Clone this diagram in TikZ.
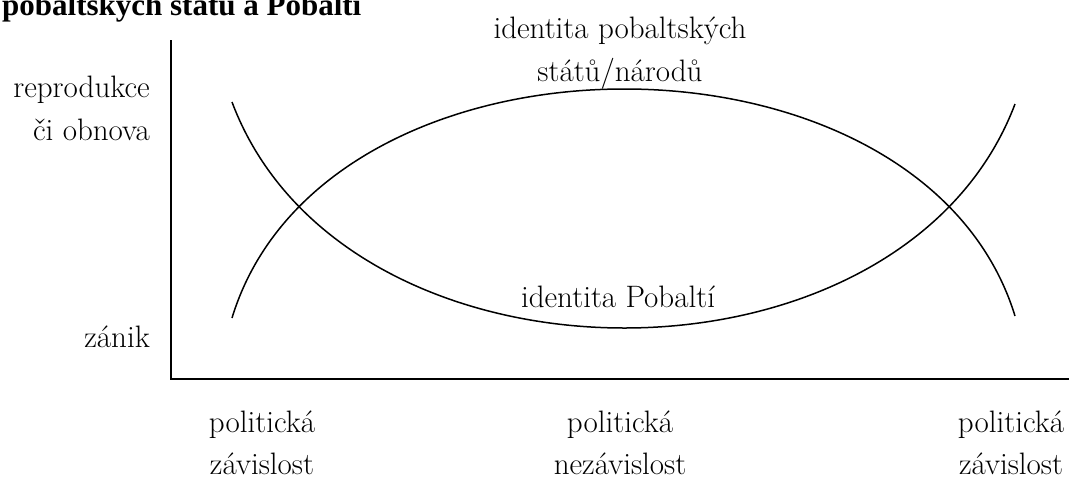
\documentclass[tikz,border=0pt]{standalone}
\usepackage{fontspec}
\newfontfamily\titlefont{Liberation Serif}
\begin{document}
\begin{tikzpicture}[x=1pt,y=-1pt,
  lbl/.style={font=\fontsize{31}{37}\selectfont, inner sep=0pt, anchor=base},
  lblr/.style={lbl, anchor=base east},
  axis/.style={line width=2pt},
  curve/.style={line width=1.5pt}]
  \useasboundingbox (0,0) rectangle (1069,480);
  % heading, only its lower part lies on the page
  \node[inner sep=0pt, anchor=base west, font=\titlefont\bfseries\fontsize{31}{36}\selectfont] (title) at (2,15) {pobaltských států a Pobaltí};
  % axes
  \coordinate (ytop) at (171,40);
  \coordinate (origin) at (171,379);
  \coordinate (xend) at (1069,379);
  \draw[axis] (ytop) -- (origin) -- (xend);
  % identity of the Baltic states / nations (arch)
  \draw[curve] (232,318) .. controls (325,13) and (922,13) .. (1015,316);
  % identity of the Baltic region (valley)
  \draw[curve] (232,102) .. controls (345,403) and (902,403) .. (1015,104);
  % vertical axis labels
  \node[lblr] (rep) at (150,97) {reprodukce};
  \node[lblr] (obn) at (150,140) {či obnova};
  \node[lblr] (zan) at (150,347) {zánik};
  % curve labels
  \node[lbl] (st1) at (620,38) {identita pobaltských};
  \node[lbl] (st2) at (620,81) {států/národů};
  \node[lbl] (pob) at (618,307) {identita Pobaltí};
  % horizontal axis labels
  \node[lbl] (l1) at (262,432) {politická};
  \node[lbl] (l2) at (262,474) {závislost};
  \node[lbl] (m1) at (620,432) {politická};
  \node[lbl] (m2) at (620,474) {nezávislost};
  \node[lbl] (r1) at (1011,432) {politická};
  \node[lbl] (r2) at (1011,474) {závislost};
\end{tikzpicture}
\end{document}
